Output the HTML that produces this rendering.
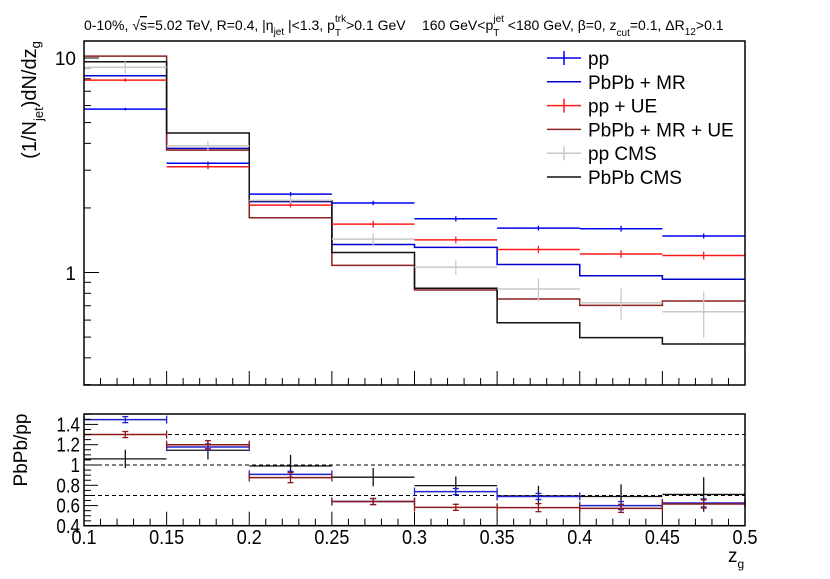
<!DOCTYPE html>
<html><head><meta charset="utf-8"><style>
html,body{margin:0;padding:0;background:#fff;}
svg{display:block;font-family:"Liberation Sans",sans-serif;}
</style></head><body>
<svg id="c" width="830" height="579" viewBox="0 0 830 579"></svg>
<script>
const binEdges=[0.1,0.15,0.2,0.25,0.3,0.35,0.4,0.45,0.5];
const ppVals=[5.78,3.23,2.32,2.11,1.78,1.61,1.60,1.48];
const ppErr=[0.08,0.06,0.05,0.05,0.05,0.04,0.05,0.04];
const mrVals=[8.27,3.79,2.14,1.35,1.31,1.09,0.966,0.93];
const ueVals=[7.89,3.11,2.06,1.68,1.42,1.28,1.22,1.20];
const ueErr=[0.15,0.08,0.05,0.06,0.05,0.05,0.05,0.05];
const mrueVals=[10.2,3.72,1.80,1.08,0.829,0.752,0.703,0.736];
const cmsPpVals=[9.05,3.90,2.17,1.43,1.06,0.838,0.723,0.656];
const cmsPpErr=[0.6,0.2,0.15,0.09,0.08,0.10,0.12,0.16];
const cmsPbVals=[9.6,4.47,2.16,1.24,0.844,0.583,0.497,0.464];
const ratioMR=[1.447,1.177,0.908,0.64,0.738,0.69,0.60,0.626];
const ratioMRErr=[0.03,0.03,0.03,0.03,0.03,0.03,0.04,0.04];
const ratioUE=[1.30,1.20,0.876,0.64,0.583,0.58,0.573,0.616];
const ratioUEErr=[0.03,0.04,0.05,0.03,0.03,0.04,0.04,0.04];
const ratioCMS=[1.06,1.145,0.99,0.88,0.797,0.695,0.69,0.71];
const ratioCMSErr=[0.09,0.09,0.11,0.09,0.09,0.1,0.12,0.17];
const xTicks=[0.1,0.15,0.2,0.25,0.3,0.35,0.4,0.45,0.5];
const xTickLabels=["0.1","0.15","0.2","0.25","0.3","0.35","0.4","0.45","0.5"];
const rTicks=[0.4,0.6,0.8,1.0,1.2,1.4];
const rTickLabels=["0.4","0.6","0.8","1","1.2","1.4"];
const rRefLines=[1.3,1.0,0.7];

const NS="http://www.w3.org/2000/svg";
const svg=document.getElementById('c');
const X0=84,X1=745,TY0=41,TY1=385,BY0=414,BY1=525.7;
const xs=v=>X0+(v-0.1)/0.4*(X1-X0);
const ys=v=>272.5-Math.log10(v)*214.5;
const yr=v=>465-(v-1)*101.5;
function el(tag,attrs,parent){const e=document.createElementNS(NS,tag);for(const k in attrs)e.setAttribute(k,attrs[k]);(parent||svg).appendChild(e);return e;}

function step(vals,color,name,yf,w){
  let d='';
  vals.forEach((v,i)=>{const y=yf(v);d+=(i===0?'M':'L')+xs(binEdges[i])+','+y+'L'+xs(binEdges[i+1])+','+y;});
  const p=el('path',{d:d,fill:'none',stroke:color,'stroke-width':w||1.5});
  
  
}
function points(vals,errs,color,name,yf,caps,w){
  const g=el('g',{});
  
  
  vals.forEach((v,i)=>{
    const y=yf(v),xa=xs(binEdges[i]),xb=xs(binEdges[i+1]),xc=(xa+xb)/2;
    el('line',{x1:xa,x2:xb,y1:y,y2:y,stroke:color,'stroke-width':w||1.5},g);
    const y1=yf(v+errs[i]),y2=yf(Math.max(v-errs[i],0.01));
    el('line',{x1:xc,x2:xc,y1:y1,y2:y2,stroke:color,'stroke-width':1.3},g);
    if(caps){
      el('line',{x1:xc-3,x2:xc+3,y1:y1,y2:y1,stroke:color,'stroke-width':1.3},g);
      el('line',{x1:xc-3,x2:xc+3,y1:y2,y2:y2,stroke:color,'stroke-width':1.3},g);
      el('line',{x1:xa,x2:xa,y1:y-4,y2:y+4,stroke:color,'stroke-width':1.3},g);
      el('line',{x1:xb,x2:xb,y1:y-4,y2:y+4,stroke:color,'stroke-width':1.3},g);
    }
  });
}
function text(x,y,s,size,name,anchor,extra){
  const t=el('text',Object.assign({x:x,y:y,'font-size':size,fill:'#000','text-anchor':anchor||'start'},extra||{}));
  t.innerHTML=s;
  
  
  return t;
}

// header
text(84,30,'0-10%, &#8730;<tspan text-decoration="overline">s</tspan>=5.02 TeV, R=0.4, |&#951;<tspan font-size="10" dy="5">jet</tspan><tspan dy="-5"> |&lt;1.3, p</tspan><tspan font-size="10" dy="6">T</tspan><tspan font-size="10" dx="-6" dy="-14">trk</tspan><tspan dy="8">&gt;0.1 GeV</tspan>',14,'header-cuts');
text(422,30,'160 GeV&lt;p<tspan font-size="10" dy="6">T</tspan><tspan font-size="10" dx="-6" dy="-14">jet</tspan><tspan dy="8"> &lt;180 GeV, &#946;=0, z</tspan><tspan font-size="10" dy="6">cut</tspan><tspan dy="-6">=0.1, &#916;R</tspan><tspan font-size="10" dy="5">12</tspan><tspan dy="-5">&gt;0.1</tspan>',14,'header-kinematics');

// top frame ticks
const tg=el('g',{});


[0.3,0.4,0.5,0.6,0.7,0.8,0.9,1,2,3,4,5,6,7,8,9,10].forEach(v=>{
  const maj=(v===1||v===10);
  el('line',{x1:X0,x2:X0+(maj?15:7),y1:ys(v),y2:ys(v),stroke:'#000','stroke-width':1},tg);
});
text(76,65,'10',19,'y-tick-10','end');
text(76,280,'1',19,'y-tick-1','end');
function xTickMarks(yb,name){
  const g=el('g',{});
  
  
  for(let i=0;i<=40;i++){const v=0.1+i*0.01;const maj=i%5===0;
    el('line',{x1:xs(v),x2:xs(v),y1:yb,y2:yb-(maj?14:7),stroke:'#000','stroke-width':1},g);}
}
xTickMarks(TY1,'top-x-ticks');

// top series
step(mrVals,'#0000cc','pbpb-mr-line',ys);
step(mrueVals,'#8b2020','pbpb-mr-ue-line',ys);
step(cmsPbVals,'#111','pbpb-cms-line',ys);
points(cmsPpVals,cmsPpErr,'#c8c8c8','pp-cms-points',ys,false);
points(ppVals,ppErr,'#0000ee','pp-points',ys,false);
points(ueVals,ueErr,'#ff1a1a','pp-ue-points',ys,false);
el('rect',{x:X0,y:TY0,width:X1-X0,height:TY1-TY0,fill:'none',stroke:'#000','stroke-width':1.5});

// y title top
text(0,0,'(1/N<tspan font-size="13" dy="7">jet</tspan><tspan dy="-7">)dN/dz</tspan><tspan font-size="13" dy="4">g</tspan>',20,'y-axis-title','middle',{transform:'translate(36,100) rotate(-90)'});

// legend
const lg=el('g',{});


const legNames=['pp','PbPb + MR','pp + UE','PbPb + MR + UE','pp CMS','PbPb CMS'];
const legColors=['#0000ee','#0000cc','#ff1a1a','#8b2020','#c8c8c8','#111'];
const legErr=[true,false,true,false,true,false];
legNames.forEach((n,i)=>{
  const y=58+i*23.8;
  const e=el('g',{},lg);
  
  
  el('line',{x1:547,x2:581,y1:y,y2:y,stroke:legColors[i],'stroke-width':1.5},e);
  if(legErr[i])el('line',{x1:564,x2:564,y1:y-7,y2:y+7,stroke:legColors[i],'stroke-width':1.5},e);
  const t=el('text',{x:588,y:y+7,'font-size':19},e);t.textContent=n;
});

// bottom panel
rRefLines.forEach(v=>{
  const l=el('line',{x1:X0,x2:X1,y1:yr(v),y2:yr(v),stroke:'#000','stroke-width':1,'stroke-dasharray':'4,3'});
  
  
});
points(ratioCMS,ratioCMSErr,'#111','ratio-cms',yr,false,1.3);
points(ratioMR,ratioMRErr,'#2222cc','ratio-mr',yr,true,1.5);
points(ratioUE,ratioUEErr,'#8b1a1a','ratio-mr-ue',yr,true,1.5);
const rg=el('g',{});


for(let i=0;i<=22;i++){const v=0.4+i*0.05;const maj=i%4===0;
  if(yr(v)<BY0)break;
  el('line',{x1:X0,x2:X0+(maj?14:7),y1:yr(v),y2:yr(v),stroke:'#000','stroke-width':1},rg);}
rTicks.forEach((v,i)=>text(80/0.85,yr(v)+7,rTickLabels[i],20,'ratio-y-tick','end',{transform:'scale(0.85,1)'}));
xTickMarks(BY1,'bottom-x-ticks');
el('rect',{x:X0,y:BY0,width:X1-X0,height:BY1-BY0,fill:'none',stroke:'#000','stroke-width':1.5});
xTicks.forEach((v,i)=>text(xs(v)/0.9,544,xTickLabels[i],20,'x-tick-label','middle',{transform:'scale(0.9,1)'}));
text(728,562,'z<tspan font-size="12" dy="6">g</tspan>',19,'x-axis-title','start');
text(0,0,'PbPb/pp',19,'ratio-y-title','middle',{transform:'translate(27,450) rotate(-90)'});
</script>
</body></html>
